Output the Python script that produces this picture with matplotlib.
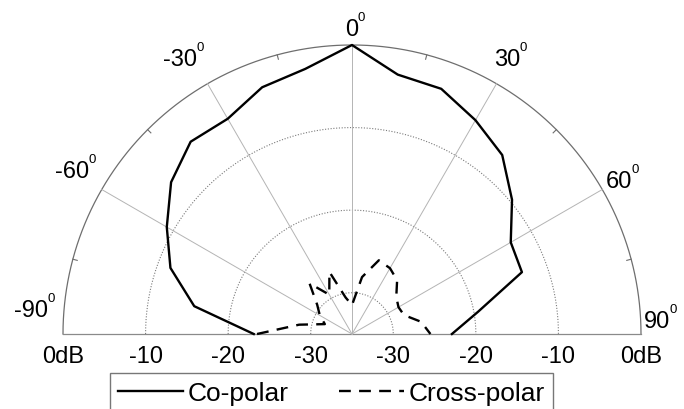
import numpy as np
import matplotlib.pyplot as plt

plt.rcParams['font.family'] = ['Liberation Sans', 'DejaVu Sans']

# angle from boresight (deg) and normalised gain (dB)
theta = [-90, -80, -70, -60, -50, -40, -30, -20, -10, 0,
         10, 20, 30, 40, 50, 60, 70, 80, 90]
co_polar = [-23.1, -15.6, -11.6, -9.1, -6.4, -4.6, -4.9, -3.2, -2.4, 0.0,
            -3.1, -3.4, -5.1, -6.7, -9.7, -12.8, -13.1, -19.5, -22.9]
cross_polar = [-23.5, -28.5, -31.5, -30.5, -29.5, -27.0, -29.5, -27.0, -30.5, -31.5,
               -28.0, -25.5, -25.8, -26.5, -28.0, -28.5, -28.3, -26.5, -25.5]

ring_db = [-30, -20, -10]
spoke_deg = [-60, -30, 0, 30, 60]
tick_deg = [-75, -45, -15, 15, 45, 75]

db_min = -35.0   # value at the centre
R = -db_min      # outer circle = 0 dB

# pixel scale of the layout
k = 289.0 / R
cx, cy = 352.0, 335.0


def px(x, y):
    return (x - cx) / k, (cy - y) / k


def to_xy(ang, db):
    r = np.clip(np.asarray(db, float) - db_min, 0, None)
    a = np.radians(np.asarray(ang, float))
    return r * np.sin(a), r * np.cos(a)


fig = plt.figure(figsize=(6.84, 4.10), dpi=100)
ax = fig.add_axes([0, 0, 1, 1])
ax.set_xlim(-cx / k, (684 - cx) / k)
ax.set_ylim(-(410 - cy) / k, cy / k)
ax.axis('off')

# grid
t = np.linspace(-90, 90, 361)
for d in ring_db:
    x, y = to_xy(t, np.full_like(t, d))
    ax.plot(x, y, ls=(0, (1, 1.5)), color='#7a7a7a', lw=0.8)
x, y = to_xy(t, np.zeros_like(t))
ax.plot(x, y, color='#6e6e6e', lw=0.9)
ax.plot([-R, R], [0, 0], color='#8a8a8a', lw=0.9)
for d in spoke_deg:
    x, y = to_xy([d, d], [db_min, 0])
    ax.plot(x, y, color='#b4b4b4', lw=0.7)
for d in tick_deg:
    x, y = to_xy([d, d], [-0.55, 0])
    ax.plot(x, y, color='#6e6e6e', lw=0.8)

# patterns
x, y = to_xy(theta, co_polar)
ax.plot(x, y, color='black', lw=1.7, label='Co-polar')
x, y = to_xy(theta, cross_polar)
ax.plot(x, y, color='black', lw=1.7, dashes=(5, 3.5), label='Cross-polar')

fs = 17
# radial labels
rad_labels = ['0dB', '-10', '-20', '-30']
rad_vals = [0, -10, -20, -30]
for s, v in zip(rad_labels, rad_vals):
    for sgn in (-1, 1):
        ax.text(sgn * (v - db_min), px(0, 357)[1], s, ha='center', va='center', fontsize=fs)

# angle labels with superscript 0
ang_text = ['-90', '-60', '-30', '0', '30', '60', '90']
ang_pos = [(31, 311), (72, 172), (180, 60), (352, 30), (507, 60), (619, 182), (657, 322)]
base = []
for s, (xp, yp) in zip(ang_text, ang_pos):
    base.append(ax.text(*px(xp, yp), s, ha='center', va='center', fontsize=fs))
fig.canvas.draw()
for tx in base:
    bb = tx.get_window_extent()
    ax.annotate('0', xy=(bb.x1, bb.y1), xycoords='figure pixels',
                xytext=(-0.5, 1), textcoords='offset points',
                ha='left', va='center', fontsize=9.5)

leg = ax.legend(loc='upper left', bbox_to_anchor=(110 / 684, 1 - 374 / 410),
                ncol=2, fontsize=19, frameon=True, fancybox=False,
                handlelength=2.45, handletextpad=0.2, columnspacing=1.9,
                borderpad=0.3, borderaxespad=0)
leg.get_frame().set_edgecolor('#555555')
leg.get_frame().set_linewidth(1.0)

fig.savefig('out.png', dpi=100)
